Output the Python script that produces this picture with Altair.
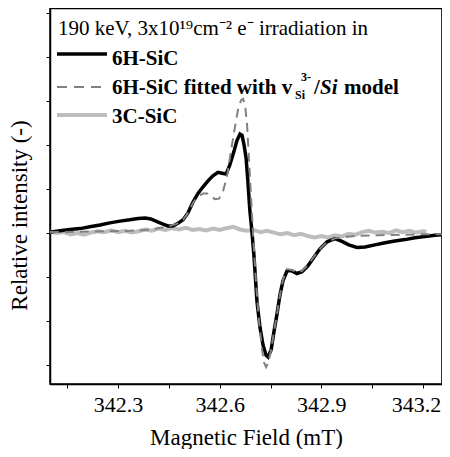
import altair as alt
import pandas as pd

# ---------------- data ----------------
field_6h = [342.099, 342.129, 342.158, 342.188, 342.217, 342.247, 342.276, 342.306, 342.335, 342.359,
            342.380, 342.397, 342.415, 342.433, 342.447, 342.462, 342.477, 342.492, 342.506, 342.521,
            342.536, 342.551, 342.565, 342.580, 342.595, 342.607, 342.619, 342.630, 342.642, 342.651,
            342.660, 342.666, 342.672, 342.678, 342.683, 342.689, 342.695, 342.701, 342.710, 342.719,
            342.728, 342.737, 342.743, 342.752, 342.760, 342.769, 342.778, 342.787, 342.799, 342.813,
            342.828, 342.843, 342.860, 342.878, 342.896, 342.917, 342.940, 342.961, 342.981, 343.005,
            343.029, 343.058, 343.088, 343.117, 343.147, 343.176, 343.206, 343.235, 343.256]
int_6h = [0.02, 0.05, 0.08, 0.10, 0.14, 0.18, 0.23, 0.27, 0.30, 0.33,
          0.34, 0.32, 0.26, 0.20, 0.16, 0.16, 0.22, 0.30, 0.45, 0.70,
          0.90, 1.05, 1.18, 1.30, 1.38, 1.36, 1.34, 1.55, 1.85, 2.10,
          2.25, 2.22, 2.00, 1.70, 1.20, 0.52, 0.05, -0.50, -1.55, -2.15,
          -2.55, -2.78, -2.82, -2.65, -2.25, -1.85, -1.40, -1.08, -0.86, -0.86,
          -0.92, -0.88, -0.75, -0.55, -0.36, -0.20, -0.13, -0.19, -0.27, -0.33,
          -0.32, -0.27, -0.22, -0.18, -0.15, -0.11, -0.08, -0.05, -0.04]

field_fit = [342.099, 342.188, 342.276, 342.335, 342.380, 342.415, 342.442, 342.462, 342.477, 342.492,
             342.506, 342.521, 342.536, 342.551, 342.563, 342.574, 342.586, 342.598, 342.610, 342.622,
             342.633, 342.645, 342.654, 342.663, 342.669, 342.675, 342.681, 342.686, 342.692, 342.698,
             342.707, 342.716, 342.725, 342.731, 342.737, 342.743, 342.752, 342.760, 342.769, 342.778,
             342.787, 342.799, 342.813, 342.828, 342.843, 342.860, 342.878, 342.896, 342.917, 342.940,
             342.970, 343.014, 343.073, 343.132, 343.191, 343.256]
int_fit = [0.02, 0.03, 0.04, 0.05, 0.07, 0.10, 0.14, 0.18, 0.22, 0.30,
           0.45, 0.68, 0.83, 0.90, 0.90, 0.84, 0.77, 0.78, 0.95, 1.30,
           1.85, 2.40, 2.80, 3.02, 3.05, 2.90, 2.45, 1.75, 0.90, 0.05,
           -1.10, -2.00, -2.65, -2.95, -3.05, -2.95, -2.65, -2.25, -1.85, -1.40,
           -1.06, -0.82, -0.84, -0.90, -0.86, -0.73, -0.54, -0.36, -0.20, -0.12,
           -0.09, -0.06, -0.05, -0.04, -0.03, -0.03]

field_3c = [342.10, 342.12, 342.14, 342.16, 342.18, 342.20, 342.22, 342.24, 342.26, 342.28,
            342.30, 342.32, 342.34, 342.36, 342.38, 342.40, 342.42, 342.44, 342.46, 342.48,
            342.50, 342.52, 342.54, 342.56, 342.58, 342.60, 342.62, 342.64, 342.66, 342.68,
            342.70, 342.72, 342.74, 342.76, 342.78, 342.80, 342.82, 342.84, 342.86, 342.88,
            342.90, 342.92, 342.94, 342.96, 342.98, 343.00, 343.02, 343.04, 343.06, 343.08,
            343.10, 343.12, 343.14, 343.16, 343.18, 343.20, 343.21]
int_3c = [0.03, 0.00, 0.02, -0.03, 0.00, -0.04, 0.01, 0.04, 0.02, 0.06,
          0.02, 0.05, 0.01, 0.04, 0.08, 0.05, 0.10, 0.07, 0.11, 0.08,
          0.12, 0.07, 0.09, 0.06, 0.10, 0.07, 0.11, 0.14, 0.08, 0.05,
          0.07, 0.02, 0.05, 0.01, -0.03, 0.00, -0.05, -0.02, -0.07, -0.10,
          -0.07, -0.10, -0.05, -0.08, -0.02, -0.04, 0.02, 0.05, 0.01, 0.03,
          0.00, 0.06, 0.02, 0.05, 0.01, 0.04, 0.03]

x_ticks = [342.15, 342.3, 342.45, 342.6, 342.75, 342.9, 343.05, 343.2]
y_ticks = [-3, -2, -1, 0, 1, 2, 3, 4, 5]
x_domain = [342.0994, 343.256]
y_domain = [-3.432, 5.114]

FONT = "Liberation Serif, Times New Roman, serif"

df6 = pd.DataFrame({"field": field_6h, "intensity": int_6h})
dff = pd.DataFrame({"field": field_fit, "intensity": int_fit})
df3 = pd.DataFrame({"field": field_3c, "intensity": int_3c})

xs = alt.Scale(domain=x_domain, nice=False, zero=False)
ys = alt.Scale(domain=y_domain, nice=False, zero=False)

x_main = alt.Axis(values=x_ticks, orient="bottom", grid=False, tickSize=4,
                  labelExpr="(abs(datum.value*10 - round(datum.value*10)) < 0.001) ? format(datum.value, '.1f') : ''",
                  labelOverlap=False, labelFlush=False, labelPadding=6,
                  labelOffset={"condition": {"test": "datum.value > 343.1", "value": -7}, "value": 0},
                  labelFont=FONT, labelFontSize=22, labelColor="black",
                  title="Magnetic Field (mT)", titleFont=FONT, titleFontSize=23,
                  titleFontWeight="normal", titleColor="black", titlePadding=11)
y_main = alt.Axis(values=y_ticks, orient="left", grid=False, tickSize=4, labels=False,
                  title="Relative intensity (-)", titleFont=FONT, titleFontSize=23,
                  titleFontWeight="normal", titleColor="black", titlePadding=14, titleY=207)
x_top = alt.Axis(values=x_ticks, orient="top", grid=False, tickSize=4, labels=False, title="")
y_right = alt.Axis(values=y_ticks, orient="right", grid=False, tickSize=4, labels=False, title="")

gray = alt.Chart(df3).mark_line(color="#bdbdbd", strokeWidth=4).encode(
    x=alt.X("field:Q", scale=xs, axis=x_top),
    y=alt.Y("intensity:Q", scale=ys, axis=y_right),
)
black = alt.Chart(df6).mark_line(color="black", strokeWidth=3.5).encode(
    x=alt.X("field:Q", scale=xs, axis=x_main),
    y=alt.Y("intensity:Q", scale=ys, axis=y_main),
)
dashed = alt.Chart(dff).mark_line(color="#808080", strokeWidth=2, strokeDash=[9, 6]).encode(
    x=alt.X("field:Q", scale=xs, axis=None),
    y=alt.Y("intensity:Q", scale=ys, axis=None),
)

one = alt.Data(values=[{"k": 1}])

def rule(color, width, y, dash=None):
    kw = dict(color=color, strokeWidth=width)
    if dash:
        kw["strokeDash"] = dash
    return alt.Chart(one).mark_rule(**kw).encode(x=alt.value(7), x2=alt.value(57), y=alt.value(y))

def txt(s, x, y, size=20, weight="bold", style="normal"):
    return alt.Chart(one).mark_text(text=s, font=FONT, fontSize=size, fontWeight=weight,
                                    fontStyle=style, align="left", baseline="alphabetic",
                                    color="black").encode(x=alt.value(x), y=alt.value(y))

legend = [
    txt("190 keV, 3x10\u00b9\u2079cm\u207b\u00b2 e\u207b irradiation in", 8, 27, size=21, weight="normal"),
    rule("black", 3.5, 46),
    txt("6H-SiC", 62, 57, size=21),
    rule("#808080", 2, 79, [10, 7]),
    txt("6H-SiC fitted with v", 62, 86, size=21),
    txt("Si", 245, 91, size=12),
    txt("3-", 251, 73, size=12),
    txt("/", 264, 86, size=21),
    txt("Si", 270, 86, size=21, style="italic"),
    txt("model", 294, 86, size=21),
    rule("#bdbdbd", 4, 107),
    txt("3C-SiC", 62, 115, size=21),
]

chart = alt.layer(gray, black, dashed, *legend).resolve_axis(
    x="independent", y="independent"
).properties(
    width=392, height=376,
    autosize=alt.AutoSizeParams(type="none"),
    padding={"left": 42, "top": 0, "right": 0, "bottom": 65},
).configure_view(stroke="black", strokeWidth=1.5).configure_axis(
    domainColor="black", domainWidth=1.5, tickColor="black", tickWidth=1
)

chart.save("out.html", embed_options={"renderer": "svg", "actions": False})
